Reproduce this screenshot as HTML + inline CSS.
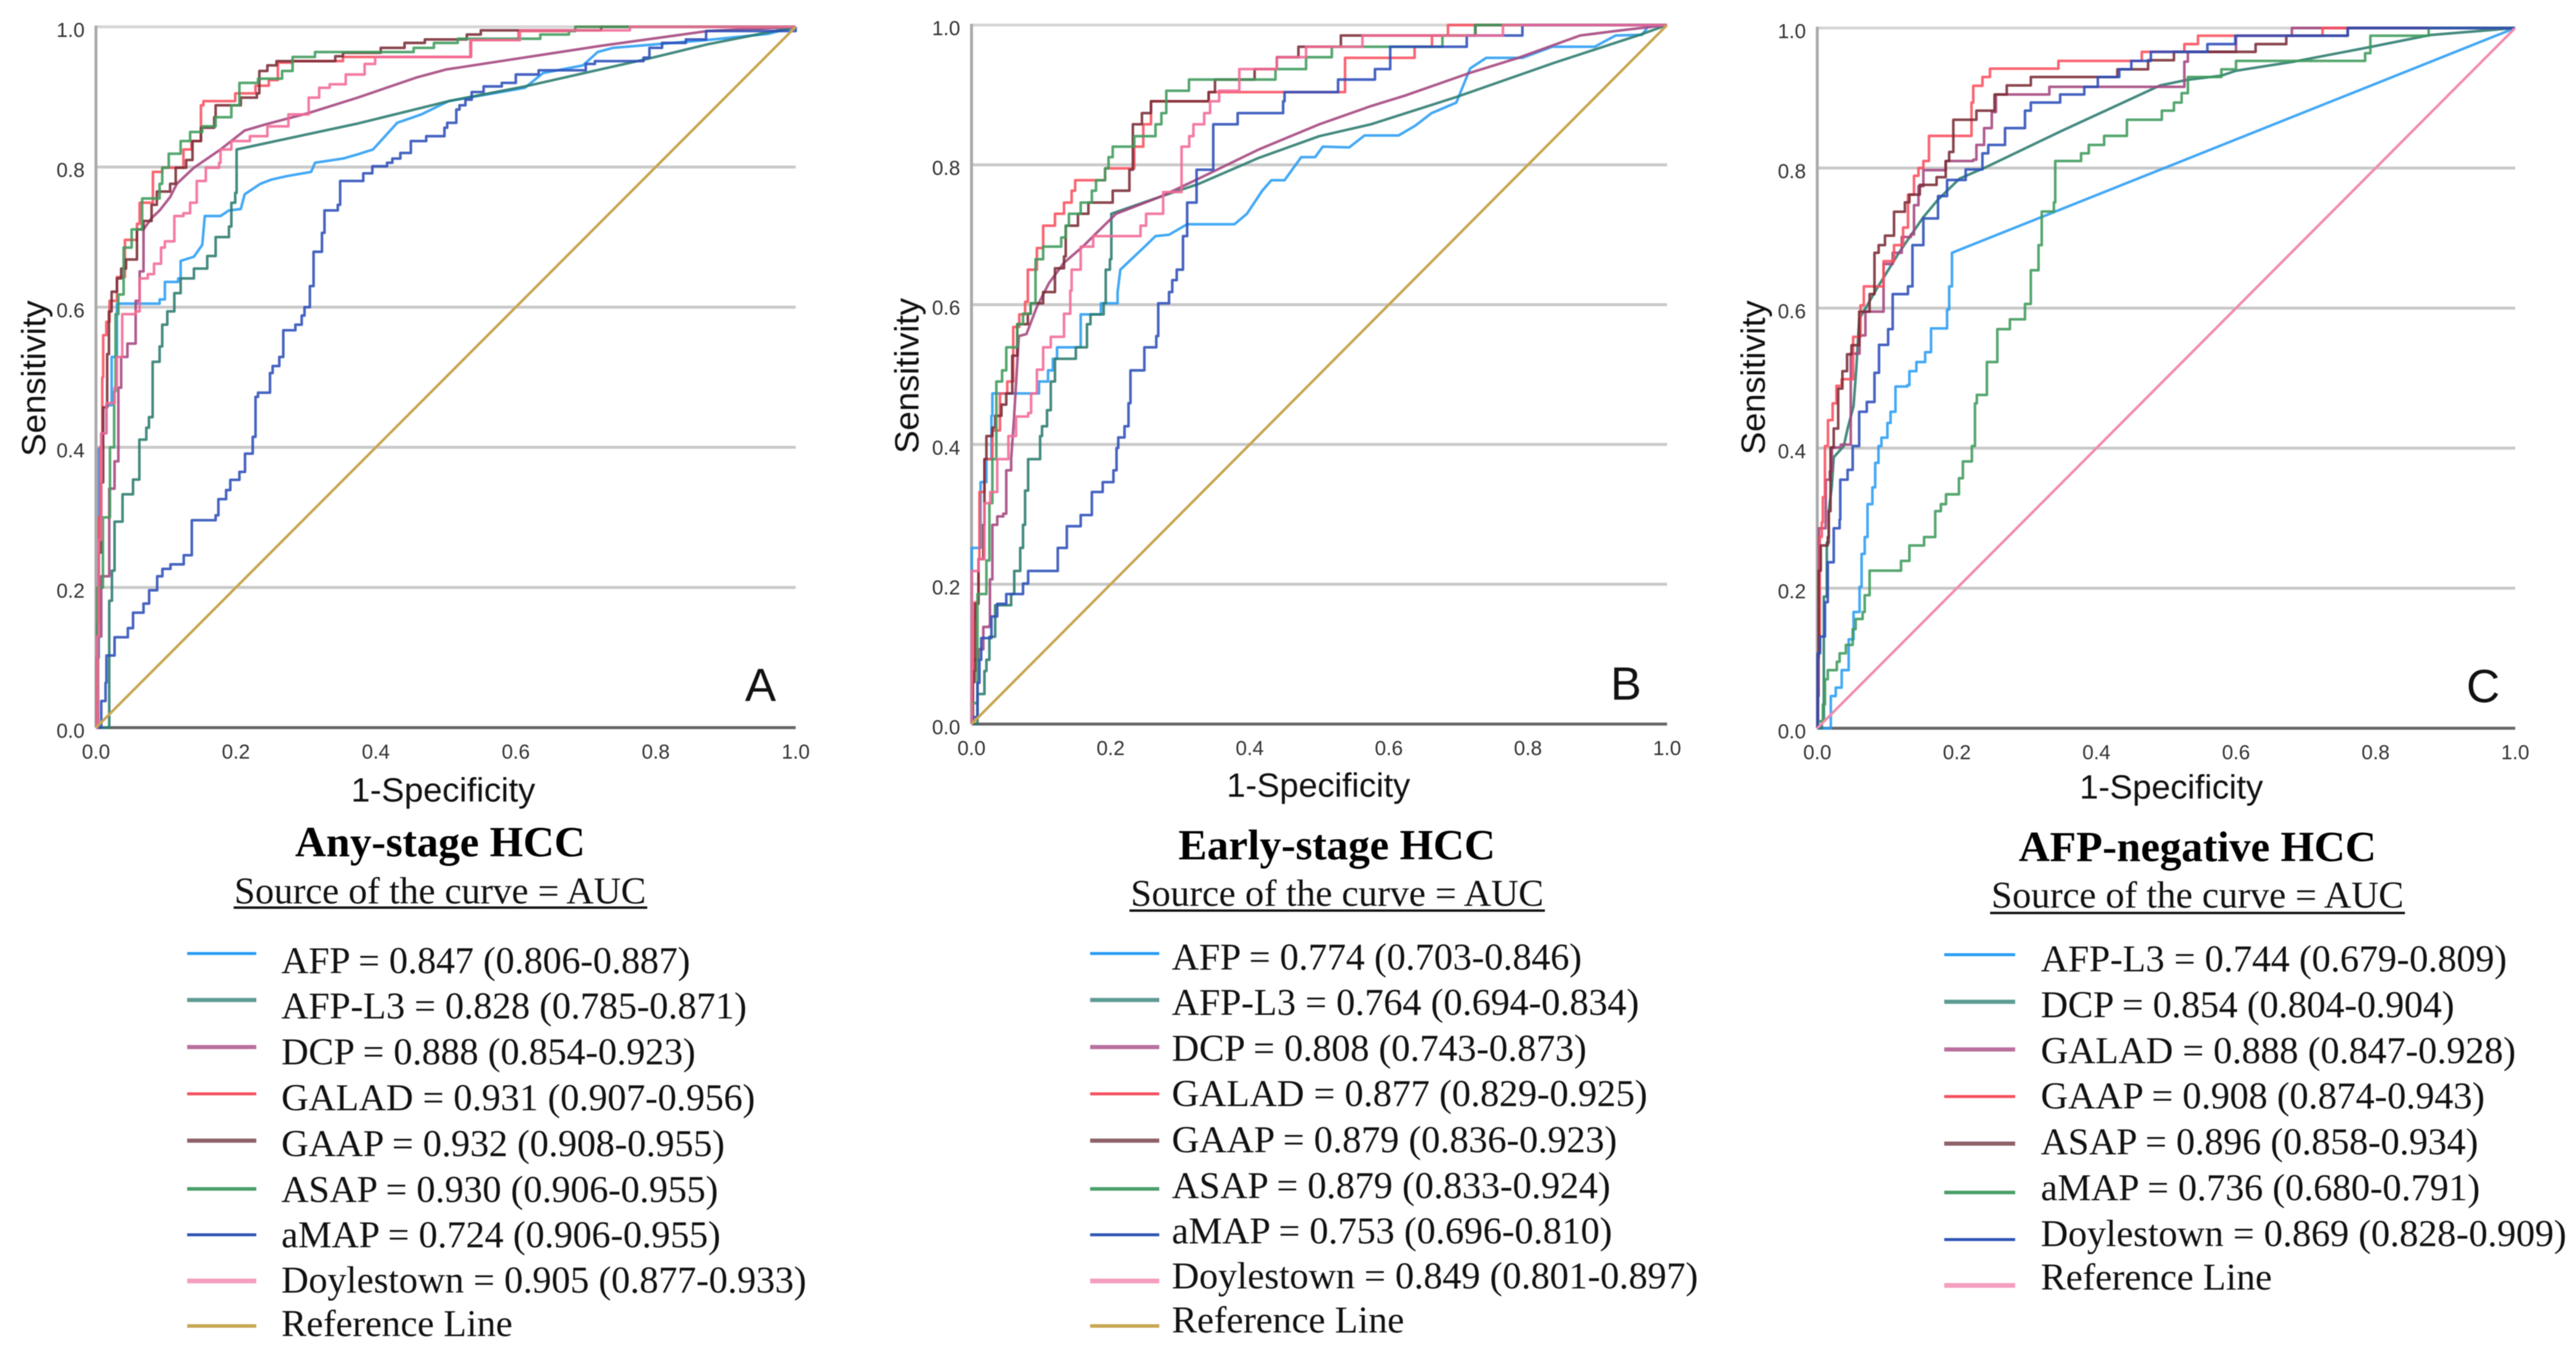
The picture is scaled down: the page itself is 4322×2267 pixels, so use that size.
<!DOCTYPE html>
<html lang="en">
<head>
<meta charset="utf-8">
<title>ROC curves for HCC biomarkers</title>
<style>
html,body{margin:0;padding:0;background:#fff;}
#figure{display:block;width:4322px;height:2267px;background:#fff;filter:blur(0.7px);}
.sans{font-family:"Liberation Sans",sans-serif;fill:#333;}
.axis-title{font-family:"Liberation Sans",sans-serif;fill:#111;font-size:57px;}
.serif{font-family:"Liberation Serif",serif;fill:#111;font-size:63px;}
.title{font-family:"Liberation Serif",serif;fill:#000;font-size:72px;font-weight:bold;}
.letter{font-family:"Liberation Sans",sans-serif;fill:#111;font-size:78px;}
</style>
</head>
<body>
<svg id="figure" xmlns="http://www.w3.org/2000/svg" width="4322" height="2267" viewBox="0 0 4322 2267">
  <g id="panel-a"></g>
  <g id="panel-b"></g>
  <g id="panel-c"></g>

  <!-- Panel A text -->
  <text class="axis-title" transform="translate(76 766) rotate(-90)" textLength="262" lengthAdjust="spacingAndGlyphs">Sensitivity</text>
  <text class="axis-title" x="589" y="1345" textLength="309" lengthAdjust="spacingAndGlyphs">1-Specificity</text>
  <text class="letter" x="1250" y="1176">A</text>
  <text class="title" x="495" y="1437" textLength="487" lengthAdjust="spacingAndGlyphs">Any-stage HCC</text>
  <text class="serif" x="393" y="1516" textLength="691" lengthAdjust="spacingAndGlyphs">Source of the curve = AUC</text>
  <line x1="392" x2="1086" y1="1523" y2="1523" stroke="#111" stroke-width="4"/>
  <g>
    <g><line x1="314" x2="430" y1="1600" y2="1600" stroke="#2a9df4" stroke-width="5"/><text class="serif" x="472" y="1633" textLength="686" lengthAdjust="spacingAndGlyphs">AFP = 0.847 (0.806-0.887)</text></g>
    <g><line x1="314" x2="430" y1="1678" y2="1678" stroke="#5e9c94" stroke-width="7"/><text class="serif" x="472" y="1709" textLength="781" lengthAdjust="spacingAndGlyphs">AFP-L3 = 0.828 (0.785-0.871)</text></g>
    <g><line x1="314" x2="430" y1="1757" y2="1757" stroke="#b9709f" stroke-width="7"/><text class="serif" x="472" y="1786" textLength="695" lengthAdjust="spacingAndGlyphs">DCP = 0.888 (0.854-0.923)</text></g>
    <g><line x1="314" x2="430" y1="1835.5" y2="1835.5" stroke="#f5505f" stroke-width="5"/><text class="serif" x="472" y="1863" textLength="795" lengthAdjust="spacingAndGlyphs">GALAD = 0.931 (0.907-0.956)</text></g>
    <g><line x1="314" x2="430" y1="1914" y2="1914" stroke="#8e6268" stroke-width="7"/><text class="serif" x="472" y="1940" textLength="744" lengthAdjust="spacingAndGlyphs">GAAP = 0.932 (0.908-0.955)</text></g>
    <g><line x1="314" x2="430" y1="1995" y2="1995" stroke="#4a9f6a" stroke-width="6"/><text class="serif" x="472" y="2017" textLength="733" lengthAdjust="spacingAndGlyphs">ASAP = 0.930 (0.906-0.955)</text></g>
    <g><line x1="314" x2="430" y1="2072" y2="2072" stroke="#2f55b5" stroke-width="5"/><text class="serif" x="472" y="2093" textLength="737" lengthAdjust="spacingAndGlyphs">aMAP = 0.724 (0.906-0.955)</text></g>
    <g><line x1="314" x2="430" y1="2149.5" y2="2149.5" stroke="#f59ec0" stroke-width="8"/><text class="serif" x="472" y="2169" textLength="881" lengthAdjust="spacingAndGlyphs">Doylestown = 0.905 (0.877-0.933)</text></g>
    <g><line x1="314" x2="430" y1="2225" y2="2225" stroke="#c9a652" stroke-width="6"/><text class="serif" x="472" y="2242" textLength="388" lengthAdjust="spacingAndGlyphs">Reference Line</text></g>
  </g>

  <!-- Panel B text -->
  <text class="axis-title" transform="translate(1541 761) rotate(-90)" textLength="261" lengthAdjust="spacingAndGlyphs">Sensitivity</text>
  <text class="axis-title" x="2058" y="1337" textLength="308" lengthAdjust="spacingAndGlyphs">1-Specificity</text>
  <text class="letter" x="2702" y="1174">B</text>
  <text class="title" x="1977" y="1442" textLength="532" lengthAdjust="spacingAndGlyphs">Early-stage HCC</text>
  <text class="serif" x="1897" y="1520" textLength="693" lengthAdjust="spacingAndGlyphs">Source of the curve = AUC</text>
  <line x1="1895" x2="2592" y1="1528" y2="1528" stroke="#111" stroke-width="4"/>
  <g>
    <g><line x1="1829" x2="1945" y1="1600" y2="1600" stroke="#2a9df4" stroke-width="5"/><text class="serif" x="1966" y="1627" textLength="688" lengthAdjust="spacingAndGlyphs">AFP = 0.774 (0.703-0.846)</text></g>
    <g><line x1="1829" x2="1945" y1="1678" y2="1678" stroke="#5e9c94" stroke-width="7"/><text class="serif" x="1966" y="1703" textLength="784" lengthAdjust="spacingAndGlyphs">AFP-L3 = 0.764 (0.694-0.834)</text></g>
    <g><line x1="1829" x2="1945" y1="1757" y2="1757" stroke="#b9709f" stroke-width="7"/><text class="serif" x="1966" y="1780" textLength="696" lengthAdjust="spacingAndGlyphs">DCP = 0.808 (0.743-0.873)</text></g>
    <g><line x1="1829" x2="1945" y1="1835.5" y2="1835.5" stroke="#f5505f" stroke-width="5"/><text class="serif" x="1966" y="1856" textLength="798" lengthAdjust="spacingAndGlyphs">GALAD = 0.877 (0.829-0.925)</text></g>
    <g><line x1="1829" x2="1945" y1="1914" y2="1914" stroke="#8e6268" stroke-width="7"/><text class="serif" x="1966" y="1933.5" textLength="747" lengthAdjust="spacingAndGlyphs">GAAP = 0.879 (0.836-0.923)</text></g>
    <g><line x1="1829" x2="1945" y1="1995" y2="1995" stroke="#4a9f6a" stroke-width="6"/><text class="serif" x="1966" y="2010.5" textLength="736" lengthAdjust="spacingAndGlyphs">ASAP = 0.879 (0.833-0.924)</text></g>
    <g><line x1="1829" x2="1945" y1="2072" y2="2072" stroke="#2f55b5" stroke-width="5"/><text class="serif" x="1966" y="2086.5" textLength="739" lengthAdjust="spacingAndGlyphs">aMAP = 0.753 (0.696-0.810)</text></g>
    <g><line x1="1829" x2="1945" y1="2149.5" y2="2149.5" stroke="#f59ec0" stroke-width="8"/><text class="serif" x="1966" y="2162" textLength="883" lengthAdjust="spacingAndGlyphs">Doylestown = 0.849 (0.801-0.897)</text></g>
    <g><line x1="1829" x2="1945" y1="2225" y2="2225" stroke="#c9a652" stroke-width="6"/><text class="serif" x="1966" y="2236" textLength="390" lengthAdjust="spacingAndGlyphs">Reference Line</text></g>
  </g>

  <!-- Panel C text -->
  <text class="axis-title" transform="translate(2961 763) rotate(-90)" textLength="259" lengthAdjust="spacingAndGlyphs">Sensitivity</text>
  <text class="axis-title" x="3489" y="1340" textLength="308" lengthAdjust="spacingAndGlyphs">1-Specificity</text>
  <text class="letter" x="4138" y="1178">C</text>
  <text class="title" x="3387" y="1445" textLength="600" lengthAdjust="spacingAndGlyphs">AFP-negative HCC</text>
  <text class="serif" x="3341" y="1523" textLength="692" lengthAdjust="spacingAndGlyphs">Source of the curve = AUC</text>
  <line x1="3339" x2="4035" y1="1532" y2="1532" stroke="#111" stroke-width="4"/>
  <g>
    <g><line x1="3262" x2="3381" y1="1602" y2="1602" stroke="#2a9df4" stroke-width="5"/><text class="serif" x="3424" y="1630" textLength="782" lengthAdjust="spacingAndGlyphs">AFP-L3 = 0.744 (0.679-0.809)</text></g>
    <g><line x1="3262" x2="3381" y1="1681" y2="1681" stroke="#5e9c94" stroke-width="7"/><text class="serif" x="3424" y="1707" textLength="694" lengthAdjust="spacingAndGlyphs">DCP = 0.854 (0.804-0.904)</text></g>
    <g><line x1="3262" x2="3381" y1="1761" y2="1761" stroke="#b9709f" stroke-width="7"/><text class="serif" x="3424" y="1784" textLength="797" lengthAdjust="spacingAndGlyphs">GALAD = 0.888 (0.847-0.928)</text></g>
    <g><line x1="3262" x2="3381" y1="1840" y2="1840" stroke="#f5505f" stroke-width="5"/><text class="serif" x="3424" y="1860" textLength="745" lengthAdjust="spacingAndGlyphs">GAAP = 0.908 (0.874-0.943)</text></g>
    <g><line x1="3262" x2="3381" y1="1919" y2="1919" stroke="#8e6268" stroke-width="7"/><text class="serif" x="3424" y="1937" textLength="734" lengthAdjust="spacingAndGlyphs">ASAP = 0.896 (0.858-0.934)</text></g>
    <g><line x1="3262" x2="3381" y1="2001" y2="2001" stroke="#4a9f6a" stroke-width="6"/><text class="serif" x="3424" y="2014" textLength="737" lengthAdjust="spacingAndGlyphs">aMAP = 0.736 (0.680-0.791)</text></g>
    <g><line x1="3262" x2="3381" y1="2080" y2="2080" stroke="#2f55b5" stroke-width="5"/><text class="serif" x="3424" y="2091" textLength="882" lengthAdjust="spacingAndGlyphs">Doylestown = 0.869 (0.828-0.909)</text></g>
    <g><line x1="3262" x2="3381" y1="2157" y2="2157" stroke="#f59ec0" stroke-width="8"/><text class="serif" x="3424" y="2164" textLength="388" lengthAdjust="spacingAndGlyphs">Reference Line</text></g>
  </g>
</svg>

<script>
// ---------- Shared tick data ----------
const xTickValues = [0, 0.2, 0.4, 0.6, 0.8, 1];
const yTickValues = [0, 0.2, 0.4, 0.6, 0.8, 1];
const tickLabels = ['0.0', '0.2', '0.4', '0.6', '0.8', '1.0'];
const referenceValues = [[0, 0], [1, 1]];

// ---------- Panel A: Any-stage HCC ([1-specificity, sensitivity]) ----------
const aAFP = [[0,0],[.002,.1],[.004,.398],[.0076,.42],[.015,.46],[.0224,.529],[.03,.605],[.064,.605],[.091,.611],[.0985,.636],[.1175,.641],[.121,.666],[.14,.672],[.152,.689],[.1555,.73],[.178,.73],[.19,.738],[.207,.74],[.2125,.761],[.235,.776],[.2506,.782],[.273,.787],[.3076,.793],[.313,.806],[.353,.812],[.374,.818],[.396,.825],[.4305,.863],[.465,.875],[.504,.894],[.613,.913],[.639,.934],[.696,.945],[.717,.964],[.739,.97],[.872,.981],[.961,.99],[1,1]];
const aAFPL3 = [[0,0],[.019,.181],[.0228,.224],[.0266,.294],[.038,.333],[.053,.354],[.062,.411],[.072,.428],[.0757,.443],[.081,.522],[.091,.544],[.0947,.575],[.102,.594],[.112,.62],[.121,.641],[.14,.655],[.159,.673],[.171,.7],[.19,.715],[.1935,.749],[.199,.763],[.201,.825],[.374,.862],[.504,.894],[.613,.915],[.787,.954],[.874,.975],[1,1]];
const aDCP = [[0,0],[.003,.13],[.0076,.216],[.019,.341],[.0266,.38],[.032,.485],[.036,.529],[.045,.548],[.0567,.609],[.0624,.651],[.068,.711],[.0795,.727],[.091,.738],[.106,.757],[.1156,.776],[.14,.799],[.178,.825],[.2125,.852],[.243,.861],[.304,.877],[.374,.899],[.459,.928],[.5,.939],[.722,.973],[.874,.994],[1,1]];
const aGALAD = [[0,0],[.001,.1],[.002,.2],[.004,.3],[.006,.4],[.009,.5],[.0103,.56],[.0148,.579],[.0194,.609],[.03,.643],[.0414,.696],[.0586,.719],[.0624,.749],[.0814,.793],[.0947,.799],[.125,.825],[.1365,.837],[.15,.888],[.1536,.894],[.199,.905],[.228,.916],[.247,.924],[.26,.949],[.281,.951],[.353,.957],[.536,.981],[.604,.994],[.685,1],[1,1]];
const aGAAP = [[0,0],[.002,.15],[.004,.25],[.0076,.35],[.0103,.457],[.016,.533],[.0186,.594],[.0224,.622],[.03,.641],[.036,.655],[.043,.668],[.0586,.711],[.068,.723],[.0795,.746],[.087,.765],[.106,.776],[.114,.799],[.129,.81],[.138,.837],[.15,.856],[.169,.871],[.171,.888],[.207,.899],[.23,.905],[.2335,.937],[.245,.945],[.258,.951],[.342,.958],[.353,.963],[.407,.97],[.441,.977],[.47,.982],[.53,.989],[.55,.995],[.722,1],[1,1]];
const aASAP = [[0,0],[.002,.2],[.01,.3],[.02,.4],[.026,.48],[.028,.59],[.032,.618],[.0395,.685],[.051,.711],[.066,.755],[.091,.776],[.0947,.799],[.104,.819],[.121,.837],[.1346,.85],[.152,.858],[.171,.871],[.1935,.888],[.205,.92],[.2316,.926],[.266,.937],[.281,.957],[.313,.964],[.454,.97],[.483,.977],[.517,.983],[.635,.989],[.676,.994],[.685,1],[1,1]];
const aAMAP = [[0,0],[.0076,.038],[.0137,.064],[.015,.103],[.0266,.129],[.0456,.142],[.053,.164],[.068,.177],[.076,.196],[.0875,.216],[.095,.2265],[.1065,.233],[.1255,.246],[.137,.296],[.171,.303],[.175,.326],[.186,.339],[.192,.3536],[.205,.365],[.213,.391],[.224,.415],[.228,.472],[.2316,.478],[.2487,.506],[.2525,.516],[.262,.529],[.2677,.567],[.285,.575],[.294,.588],[.298,.6],[.3057,.63],[.311,.679],[.323,.706],[.3266,.738],[.3456,.746],[.349,.78],[.382,.791],[.395,.801],[.416,.806],[.4236,.812],[.435,.82],[.45,.837],[.472,.844],[.498,.856],[.502,.863],[.515,.882],[.5196,.888],[.528,.896],[.537,.907],[.554,.915],[.58,.92],[.6,.932],[.6326,.938],[.7,.947],[.713,.951],[.7825,.956],[.791,.97],[.809,.977],[.843,.982],[.872,.994],[1,1]];
const aDoylestown = [[0,0],[.002,.13],[.004,.268],[.0076,.42],[.015,.463],[.0266,.485],[.03,.529],[.0376,.59],[.0567,.594],[.0624,.641],[.074,.647],[.083,.662],[.093,.685],[.0985,.694],[.112,.73],[.125,.734],[.1346,.749],[.144,.78],[.157,.799],[.176,.806],[.178,.825],[.1935,.837],[.22,.844],[.245,.858],[.275,.875],[.304,.899],[.319,.913],[.334,.918],[.357,.932],[.384,.947],[.399,.957],[.535,.981],[.606,.995],[.763,1],[1,1]];

// ---------- Panel B: Early-stage HCC ----------
const bAFP = [[0,0],[.0005,.252],[.0086,.252],[.013,.346],[.0214,.379],[.0286,.441],[.03,.473],[.097,.49],[.11,.506],[.117,.5225],[.123,.539],[.15,.539],[.157,.586],[.18,.586],[.186,.602],[.2,.602],[.21,.618],[.214,.65],[.232,.667],[.249,.683],[.2645,.698],[.284,.7],[.31,.715],[.378,.715],[.396,.73],[.418,.763],[.431,.778],[.45,.778],[.474,.811],[.494,.811],[.505,.826],[.543,.825],[.565,.842],[.614,.842],[.638,.856],[.6615,.874],[.697,.889],[.717,.938],[.74,.953],[.792,.953],[.835,.969],[.896,.969],[.926,.985],[.964,.986],[.973,.998],[1,1]];
const bAFPL3 = [[0,0],[.0086,.043],[.0186,.076],[.0214,.092],[.0257,.125],[.034,.17],[.057,.186],[.0614,.219],[.07,.252],[.074,.285],[.077,.334],[.0814,.379],[.0986,.412],[.1014,.426],[.1086,.449],[.114,.49],[.12,.5225],[.15,.539],[.166,.572],[.171,.586],[.19,.602],[.193,.65],[.199,.665],[.201,.73],[.273,.755],[.326,.7725],[.413,.81],[.5,.841],[.574,.858],[.697,.897],[.838,.946],[.961,.986],[1,1]];
const bDCP = [[0,0],[.001,.092],[.01,.107],[.017,.139],[.0257,.141],[.0265,.207],[.03,.285],[.037,.297],[.0457,.301],[.05,.363],[.057,.379],[.061,.436],[.068,.555],[.079,.558],[.094,.597],[.1115,.631],[.133,.66],[.16,.683],[.177,.7],[.208,.73],[.273,.755],[.326,.78],[.413,.822],[.5,.858],[.574,.884],[.623,.899],[.715,.931],[.786,.953],[.875,.985],[.93,.992],[1,1]];
const bGALAD = [[0,0],[.002,.08],[.003,.15],[.0043,.174],[.01,.236],[.0114,.332],[.0186,.379],[.03,.42],[.041,.473],[.0514,.49],[.06,.568],[.0686,.586],[.077,.604],[.081,.65],[.094,.681],[.103,.713],[.12,.73],[.133,.746],[.144,.763],[.149,.778],[.192,.795],[.234,.826],[.247,.858],[.258,.891],[.341,.904],[.537,.953],[.637,.969],[.662,.985],[.685,1],[1,1]];
const bGAAP = [[0,0],[.002,.06],[.0043,.076],[.0057,.172],[.01,.236],[.017,.285],[.0186,.379],[.0214,.412],[.03,.424],[.034,.441],[.043,.457],[.05,.473],[.0586,.527],[.0657,.572],[.081,.587],[.085,.602],[.103,.618],[.12,.652],[.133,.669],[.1355,.713],[.153,.73],[.168,.746],[.203,.763],[.227,.793],[.232,.858],[.245,.874],[.258,.891],[.341,.904],[.35,.922],[.407,.937],[.439,.954],[.47,.969],[.531,.985],[.7245,1],[1,1]];
const bASAP = [[0,0],[.001,.03],[.0086,.186],[.0214,.234],[.0257,.316],[.03,.379],[.0357,.49],[.044,.506],[.05,.539],[.0657,.572],[.074,.587],[.085,.602],[.092,.665],[.103,.683],[.129,.696],[.1355,.713],[.14,.73],[.157,.746],[.173,.763],[.179,.778],[.192,.795],[.197,.811],[.203,.826],[.234,.841],[.2645,.858],[.273,.874],[.28,.906],[.3126,.922],[.437,.937],[.481,.954],[.518,.969],[.677,.985],[.724,1],[1,1]];
const bAMAP = [[0,0],[.0014,.01],[.0086,.059],[.0114,.092],[.014,.123],[.0286,.154],[.037,.172],[.05,.186],[.074,.201],[.0814,.219],[.124,.252],[.137,.283],[.157,.299],[.173,.332],[.1886,.346],[.204,.363],[.2085,.395],[.211,.41],[.22,.426],[.2257,.459],[.2285,.506],[.2485,.539],[.2656,.555],[.2685,.602],[.284,.618],[.2886,.635],[.295,.65],[.304,.698],[.31,.746],[.3236,.793],[.3476,.858],[.3826,.874],[.448,.891],[.45,.904],[.527,.922],[.58,.937],[.602,.969],[.712,.985],[.792,1],[1,1]];
const bDoylestown = [[0,0],[.0005,.219],[.003,.219],[.01,.236],[.0186,.316],[.027,.332],[.037,.379],[.05,.379],[.053,.412],[.064,.44],[.0814,.445],[.0857,.473],[.094,.507],[.103,.539],[.114,.554],[.133,.587],[.142,.62],[.144,.65],[.157,.683],[.175,.698],[.243,.713],[.251,.73],[.2755,.761],[.302,.826],[.313,.841],[.319,.858],[.3345,.874],[.343,.891],[.356,.906],[.385,.937],[.439,.954],[.481,.969],[.562,.985],[.764,1],[1,1]];

// ---------- Panel C: AFP-negative HCC ----------
const cAFPL3 = [[0,0],[.011,0],[.0194,.014],[.0194,.046],[.0265,.058],[.035,.083],[.045,.127],[.052,.166],[.0606,.202],[.0635,.249],[.068,.273],[.072,.32],[.079,.344],[.083,.379],[.0877,.403],[.092,.415],[.1005,.436],[.105,.452],[.112,.488],[.129,.49],[.132,.51],[.142,.523],[.1546,.537],[.163,.571],[.18,.571],[.186,.598],[.189,.631],[.193,.679],[1,1]];
const cDCP = [[0,0],[.0065,.01],[.0094,.188],[.0137,.265],[.0165,.31],[.0208,.346],[.0236,.387],[.038,.403],[.0435,.428],[.052,.46],[.056,.515],[.06,.584],[.086,.629],[.117,.679],[.152,.73],[.173,.755],[.204,.785],[.239,.8],[.352,.854],[.4915,.918],[.5303,.926],[.579,.932],[.6,.939],[.683,.952],[.793,.973],[.878,.99],[1,1]];
const cGALAD = [[0,0],[.0005,.046],[.002,.107],[.0023,.2856],[.012,.294],[.0122,.355],[.018,.367],[.021,.401],[.0336,.405],[.048,.535],[.0606,.561],[.069,.595],[.095,.663],[.108,.679],[.121,.7015],[.134,.705],[.1386,.747],[.145,.774],[.152,.797],[.184,.81],[.2235,.812],[.228,.833],[.239,.857],[.25,.88],[.256,.905],[.3325,.916],[.524,.916],[.526,.952],[.531,.966],[.6,.989],[.68,1],[1,1]];
const cGAAP = [[0,0],[.001,.05],[.002,.111],[.0037,.2734],[.0065,.294],[.008,.33],[.011,.403],[.0154,.44],[.022,.464],[.0275,.489],[.035,.4985],[.0514,.559],[.062,.604],[.0667,.631],[.095,.667],[.11,.69],[.123,.715],[.13,.762],[.1386,.789],[.145,.8],[.152,.81],[.16,.846],[.221,.8935],[.2235,.9175],[.2366,.93],[.2475,.942],[.3455,.953],[.465,.966],[.526,.977],[.5455,.989],[.724,1],[1,1]];
const cASAP = [[0,0],[.001,.1],[.002,.225],[.005,.261],[.015,.273],[.0165,.31],[.019,.401],[.0236,.428],[.03,.485],[.036,.51],[.0427,.534],[.049,.547],[.06,.595],[.075,.62],[.082,.679],[.088,.69],[.097,.7035],[.11,.7376],[.1255,.751],[.132,.762],[.147,.776],[.171,.787],[.184,.81],[.189,.823],[.195,.869],[.228,.882],[.254,.905],[.2715,.918],[.306,.93],[.43,.941],[.474,.954],[.511,.966],[.628,.977],[.672,.989],[.76,1],[1,1]];
const cAMAP = [[0,0],[.001,.01],[.008,.034],[.011,.07],[.015,.083],[.028,.095],[.032,.107],[.041,.119],[.0507,.1415],[.055,.156],[.065,.166],[.068,.19],[.075,.225],[.12,.239],[.132,.261],[.153,.273],[.169,.31],[.177,.32],[.1845,.334],[.203,.357],[.2086,.381],[.2215,.403],[.226,.464],[.2286,.476],[.243,.523],[.258,.57],[.276,.584],[.2976,.606],[.306,.654],[.317,.69],[.3216,.738],[.339,.751],[.341,.81],[.378,.821],[.389,.833],[.411,.846],[.4436,.869],[.4937,.882],[.511,.8935],[.522,.907],[.531,.93],[.579,.941],[.6,.953],[.785,.964],[.7925,.989],[.876,1],[1,1]];
const cDoylestown = [[0,0],[.0005,.107],[.004,.131],[.011,.18],[.015,.237],[.0236,.2856],[.032,.298],[.033,.355],[.0435,.369],[.0507,.403],[.06,.452],[.071,.466],[.082,.5076],[.0885,.5475],[.1015,.57],[.108,.62],[.13,.631],[.1364,.69],[.152,.728],[.173,.76],[.186,.783],[.2126,.798],[.2366,.821],[.245,.833],[.269,.857],[.2976,.882],[.306,.8935],[.348,.905],[.3826,.916],[.402,.93],[.4327,.941],[.45,.953],[.478,.966],[.559,.977],[.599,.989],[.76,1],[1,1]];

// ---------- Drawing ----------
const SVG_NS = 'http://www.w3.org/2000/svg';

function drawPanel(host, frame, letter, series, refColor) {
  const sx = v => frame.left + v * frame.width;
  const sy = v => frame.top + (1 - v) * frame.height;

  yTickValues.forEach((v, i) => {
    if (v > 0) {
      const grid = document.createElementNS(SVG_NS, 'line');
      grid.setAttribute('x1', sx(0));
      grid.setAttribute('x2', sx(1));
      grid.setAttribute('y1', sy(v));
      grid.setAttribute('y2', sy(v));
      grid.setAttribute('stroke', v === 1 ? '#d6d6d6' : '#c9c9c9');
      grid.setAttribute('stroke-width', '5');
      
      
      host.appendChild(grid);
    }
    const label = document.createElementNS(SVG_NS, 'text');
    label.textContent = tickLabels[i];
    label.setAttribute('class', 'sans');
    label.setAttribute('font-size', '34');
    label.setAttribute('text-anchor', 'end');
    label.setAttribute('x', sx(0) - 19);
    label.setAttribute('y', sy(v) + 17);
    
    
    host.appendChild(label);
  });

  xTickValues.forEach((v, i) => {
    const label = document.createElementNS(SVG_NS, 'text');
    label.textContent = tickLabels[i];
    label.setAttribute('class', 'sans');
    label.setAttribute('font-size', '34');
    label.setAttribute('text-anchor', 'middle');
    label.setAttribute('x', sx(v));
    label.setAttribute('y', sy(0) + 52);
    
    
    host.appendChild(label);
  });

  const yAxis = document.createElementNS(SVG_NS, 'line');
  yAxis.setAttribute('x1', sx(0));
  yAxis.setAttribute('x2', sx(0));
  yAxis.setAttribute('y1', sy(1) - 2);
  yAxis.setAttribute('y2', sy(0));
  yAxis.setAttribute('stroke', '#ababab');
  yAxis.setAttribute('stroke-width', '5');
  
  
  host.appendChild(yAxis);

  const xAxis = document.createElementNS(SVG_NS, 'line');
  xAxis.setAttribute('x1', sx(0));
  xAxis.setAttribute('x2', sx(1));
  xAxis.setAttribute('y1', sy(0));
  xAxis.setAttribute('y2', sy(0));
  xAxis.setAttribute('stroke', '#666');
  xAxis.setAttribute('stroke-width', '5');
  
  
  host.appendChild(xAxis);

  series.forEach(s => {
    let d = 'M' + sx(s.values[0][0]).toFixed(1) + ' ' + sy(s.values[0][1]).toFixed(1);
    for (let i = 1; i < s.values.length; i++) {
      const px = sx(s.values[i][0]).toFixed(1);
      const py = sy(s.values[i][1]).toFixed(1);
      if (s.values[i][0] <= s.stepEnd) {
        d += 'H' + px + 'V' + py;
      } else {
        d += 'L' + px + ' ' + py;
      }
    }
    const curve = document.createElementNS(SVG_NS, 'path');
    curve.setAttribute('d', d);
    curve.setAttribute('fill', 'none');
    curve.setAttribute('stroke', s.color);
    curve.setAttribute('stroke-width', '4.4');
    curve.setAttribute('stroke-opacity', '0.88');
    curve.setAttribute('stroke-linejoin', 'round');
    
    
    host.appendChild(curve);
  });

  const refLine = document.createElementNS(SVG_NS, 'path');
  refLine.setAttribute('d', 'M' + sx(referenceValues[0][0]) + ' ' + sy(referenceValues[0][1]) + 'L' + sx(referenceValues[1][0]) + ' ' + sy(referenceValues[1][1]));
  refLine.setAttribute('fill', 'none');
  refLine.setAttribute('stroke', refColor);
  refLine.setAttribute('stroke-width', '4.4');
  
  
  host.appendChild(refLine);
}

const colorBlue = '#2a9df4', colorTeal = '#2b7b6e', colorMagenta = '#a4457e', colorRed = '#f9505e',
      colorMaroon = '#7a2c35', colorGreen = '#3f9b5c', colorNavy = '#2c4fb8', colorPink = '#f26a96';

drawPanel(document.getElementById('panel-a'), {left: 161, top: 45, width: 1174, height: 1176}, 'a', [
  {key: 'afp', values: aAFP, stepEnd: 0.13, color: colorBlue},
  {key: 'afp-l3', values: aAFPL3, stepEnd: 0.201, color: colorTeal},
  {key: 'dcp', values: aDCP, stepEnd: 0.07, color: colorMagenta},
  {key: 'galad', values: aGALAD, stepEnd: 1, color: colorRed},
  {key: 'gaap', values: aGAAP, stepEnd: 1, color: colorMaroon},
  {key: 'asap', values: aASAP, stepEnd: 1, color: colorGreen},
  {key: 'amap', values: aAMAP, stepEnd: 1, color: colorNavy},
  {key: 'doylestown', values: aDoylestown, stepEnd: 1, color: colorPink}
], '#c8a650');

drawPanel(document.getElementById('panel-b'), {left: 1630, top: 42, width: 1167, height: 1173}, 'b', [
  {key: 'afp', values: bAFP, stepEnd: 0.21, color: colorBlue},
  {key: 'afp-l3', values: bAFPL3, stepEnd: 0.201, color: colorTeal},
  {key: 'dcp', values: bDCP, stepEnd: 0.06, color: colorMagenta},
  {key: 'galad', values: bGALAD, stepEnd: 1, color: colorRed},
  {key: 'gaap', values: bGAAP, stepEnd: 1, color: colorMaroon},
  {key: 'asap', values: bASAP, stepEnd: 1, color: colorGreen},
  {key: 'amap', values: bAMAP, stepEnd: 1, color: colorNavy},
  {key: 'doylestown', values: bDoylestown, stepEnd: 1, color: colorPink}
], '#c8a650');

drawPanel(document.getElementById('panel-c'), {left: 3049, top: 47, width: 1171, height: 1175}, 'c', [
  {key: 'afp-l3', values: cAFPL3, stepEnd: 0.193, color: colorBlue},
  {key: 'dcp', values: cDCP, stepEnd: 0.02, color: colorTeal},
  {key: 'galad', values: cGALAD, stepEnd: 1, color: colorMagenta},
  {key: 'gaap', values: cGAAP, stepEnd: 1, color: colorRed},
  {key: 'asap', values: cASAP, stepEnd: 1, color: colorMaroon},
  {key: 'amap', values: cAMAP, stepEnd: 1, color: colorGreen},
  {key: 'doylestown', values: cDoylestown, stepEnd: 1, color: colorNavy}
], '#f28cae');
</script>
</body>
</html>
